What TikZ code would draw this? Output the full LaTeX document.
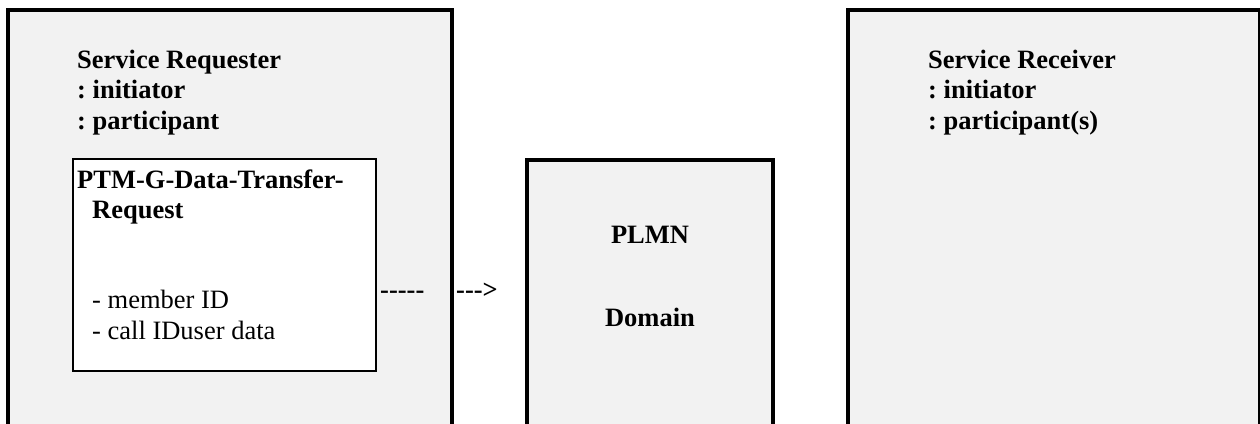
\documentclass[tikz,border=0pt]{standalone}
\usepackage{fontspec}
\setmainfont{Liberation Serif}
\frenchspacing
\definecolor{boxgray}{HTML}{F2F2F2}
\tikzset{
  bigbox/.style={draw=black, fill=boxgray, line width=4pt},
  innerbox/.style={draw=black, fill=white, line width=2pt},
  lbl/.style={inner sep=0pt, anchor=base west, font=\fontsize{26.5}{30}\selectfont\bfseries\frenchspacing},
  plain/.style={inner sep=0pt, anchor=base west, font=\fontsize{26.5}{30}\selectfont\frenchspacing},
  clbl/.style={inner sep=0pt, anchor=base, font=\fontsize{26.5}{30}\selectfont\bfseries}
}
\begin{document}
\begin{tikzpicture}[x=1pt, y=-1pt]
\useasboundingbox (0,0) rectangle (1260,423);
\clip (0,0) rectangle (1260,423);
\fill[white] (0,0) rectangle (1260,423);
% boxes
\draw[bigbox] (8,10) rectangle (452,440);
\draw[bigbox] (527,160) rectangle (773,440);
\draw[bigbox] (848,10) rectangle (1260,440);
\draw[innerbox] (73,159) rectangle (376,371);
% left texts
\node[lbl] (sr1) at (77,68) {Service Requester};
\node[lbl] (sr2) at (77,98.5) {: initiator};
\node[lbl] (sr3) at (77,129) {: participant};
\node[lbl] (pt1) at (77,188) {PTM-G-Data-Transfer-};
\node[lbl] (pt2) at (92,218) {Request};
\node[plain] (pt3) at (92,308) {- member ID};
\node[plain] (pt4) at (92,339) {- call IDuser data};
% dashes
\node[lbl] (d1) at (380,298) {{-}{-}{-}{-}{-}};
\node[lbl] (d2) at (456,298) {{-}{-}{-}>};
% middle
\node[clbl] (pl) at (650,243) {PLMN};
\node[clbl] (dom) at (650,326) {Domain};
% right
\node[lbl] (rc1) at (928,68) {Service Receiver};
\node[lbl] (rc2) at (928,98.5) {: initiator};
\node[lbl] (rc3) at (928,129) {: participant(s)};
\end{tikzpicture}
\end{document}
